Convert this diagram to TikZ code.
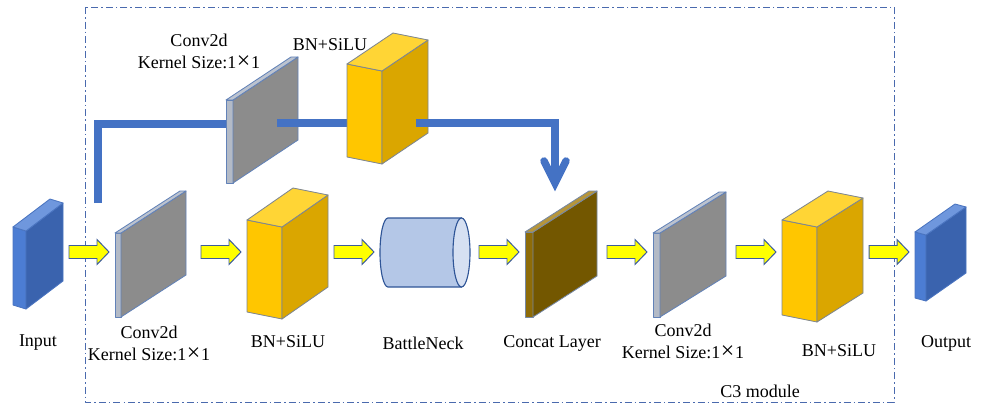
\documentclass[tikz,border=0pt]{standalone}
\usepackage{fontspec}
\setmainfont{Liberation Serif}
\usetikzlibrary{calc}

% palette
\definecolor{inpF}{HTML}{4C7DD3}
\definecolor{inpS}{HTML}{3A63AE}
\definecolor{inpT}{HTML}{6F97DD}
\definecolor{inpE}{HTML}{4A74C0}
\definecolor{cnvF}{HTML}{B3BAC6}
\definecolor{cnvS}{HTML}{8C8C8C}
\definecolor{cnvT}{HTML}{BCC3CF}
\definecolor{cnvE}{HTML}{6282B8}
\definecolor{bnF}{HTML}{FFC600}
\definecolor{bnS}{HTML}{DAA600}
\definecolor{bnT}{HTML}{FFD535}
\definecolor{bnE}{HTML}{7E8690}
\definecolor{catF}{HTML}{8E6C08}
\definecolor{catS}{HTML}{735700}
\definecolor{catT}{HTML}{B7963A}
\definecolor{catE}{HTML}{7688A4}
\definecolor{cylF}{HTML}{B4C7E7}
\definecolor{cylT}{HTML}{D6E0F2}
\definecolor{cylE}{HTML}{2F5597}
\definecolor{arrF}{HTML}{FFFF00}
\definecolor{arrE}{HTML}{3C5C9C}
\definecolor{skipC}{HTML}{4472C4}
\definecolor{frameC}{HTML}{4A6AAE}

\newcommand{\rowy}{252}
% wide multiplication sign used in the kernel-size labels
\newcommand{\bigtimes}{\kern0.5pt{\fontsize{17}{15}\selectfont ×}\kern0.5pt}

% oblique slab: #1 name, #2 x, #3 y (front top-left), #4 width, #5 height,
% #6 slant of the front face, #7 dx, #8 dy (depth), #9 colour family
\newcommand{\drawslab}[9]{%
  \path[#9 front] (#2,#3) -- ++(#4,#6) -- ++(0,#5) -- ++(-#4,-#6) -- cycle;
  \path[#9 side] (#2+#4,#3+#6) -- ++(#7,#8) -- ++(0,#5) -- (#2+#4,#3+#6+#5) -- cycle;
  \path[#9 top] (#2,#3) -- (#2+#4,#3+#6) -- ++(#7,#8) -- (#2+#7,#3+#8) -- cycle;
  \coordinate (#1-l) at (#2,\rowy);
}

% yellow block arrow ending just before block #1
\newcommand{\feedarrow}[1]{%
  \path[yarr] ($(#1-l)+(-46,-6.5)$) -- ++(28,0) -- ++(0,-6) -- ++(12,12.5)
    -- ++(-12,12.5) -- ++(0,-6) -- ++(-28,0) -- cycle;
}

\begin{document}
\begin{tikzpicture}[x=0.025cm, y=-0.025cm,
  line join=round,
  edge/.style={line width=0.6pt},
  inp front/.style={edge, fill=inpF, draw=inpE},
  inp side/.style={edge, fill=inpS, draw=inpE},
  inp top/.style={edge, fill=inpT, draw=inpE},
  cnv front/.style={edge, fill=cnvF, draw=cnvE},
  cnv side/.style={edge, fill=cnvS, draw=cnvE},
  cnv top/.style={edge, fill=cnvT, draw=cnvE},
  bn front/.style={edge, fill=bnF, draw=bnE},
  bn side/.style={edge, fill=bnS, draw=bnE},
  bn top/.style={edge, fill=bnT, draw=bnE},
  cat front/.style={edge, fill=catF, draw=catE},
  cat side/.style={edge, fill=catS, draw=catE},
  cat top/.style={edge, fill=catT, draw=catE},
  yarr/.style={fill=arrF, draw=arrE, line width=0.7pt, line join=miter},
  skip/.style={draw=skipC, line width=0.1875cm, line join=miter},
  skiphead/.style={draw=skipC, line width=0.1875cm, line join=miter, line cap=round},
  frame/.style={draw=frameC, line width=0.7pt,
    dash pattern=on 0.175cm off 0.075cm on 0.04cm off 0.075cm},
  lbl/.style={font=\fontsize{12.8}{15.6}\selectfont, inner sep=0pt, align=center}
]
\useasboundingbox (0,0) rectangle (981,407);

% module frame
\path[frame] (85,7) rectangle (894,402);

% upper branch
\coordinate (s0) at (98,203);
\coordinate (s1) at (229,124);
\coordinate (s2) at (277,123);
\coordinate (s3) at (349,123);
\coordinate (s4) at (416,123);
\coordinate (s5) at (555,183);

\draw[skip] (s0) |- (s1);
\drawslab{cvA}{226}{100}{7}{83}{0}{65}{-43}{cnv}
\draw[skip] (s2) -- (s3);
\drawslab{bnA}{347}{64}{35}{93}{7}{46}{-31}{bn}
\draw[skip] (s4) -| (s5);
\draw[skiphead] ($(s5)+(-11,-22)$) -- (s5) -- ($(s5)+(11,-22)$);

% main row
\drawslab{in}{13}{227}{13}{78}{4}{37}{-28}{inp}
\drawslab{cv1}{115}{233}{6}{84}{0}{65}{-42}{cnv}
\drawslab{bn1}{247}{220}{35}{92}{7}{46}{-32}{bn}

% bottleneck cylinder
\path[fill=cylF, draw=cylE, line width=0.8pt] (388,218) -- (461.5,218) -- (461.5,287) -- (388,287)
  arc[start angle=90, end angle=270, x radius=8, y radius=34.5] -- cycle;
\path[fill=cylT, draw=cylE, line width=0.8pt] (461.5,252.5) ellipse[x radius=8.5, y radius=34.5];
\coordinate (bk-l) at (380,\rowy);

\drawslab{cat}{525}{232}{8}{85}{0}{64}{-41}{cat}
\drawslab{cv2}{653}{233}{7}{84}{0}{66}{-41}{cnv}
\drawslab{bn2}{782}{220}{35}{95}{7}{46}{-29}{bn}
\drawslab{out}{915}{232}{11}{66}{3}{40}{-28}{inp}

% block arrows
\feedarrow{cv1}
\feedarrow{bn1}
\feedarrow{bk}
\feedarrow{cat}
\feedarrow{cv2}
\feedarrow{bn2}
\feedarrow{out}

% labels
\node[lbl] (t-cvA) at (199,51) {Conv2d\\Kernel Size:1\bigtimes 1};
\node[lbl] (t-bnA) at (330,45) {BN+SiLU};
\node[lbl] (t-in) at (38,343) {Input};
\node[lbl] (t-cv1) at (149,343) {Conv2d\\Kernel Size:1\bigtimes 1};
\node[lbl] (t-bn1) at (288,342) {BN+SiLU};
\node[lbl] (t-bk) at (423,343) {BattleNeck};
\node[lbl] (t-cat) at (552,343) {Concat Layer};
\node[lbl] (t-cv2) at (683,341.5) {Conv2d\\Kernel Size:1\bigtimes 1};
\node[lbl] (t-bn2) at (839,351) {BN+SiLU};
\node[lbl] (t-out) at (946,343) {Output};
\node[lbl] (t-c3) at (760,391) {C3 module};
\end{tikzpicture}
\end{document}
